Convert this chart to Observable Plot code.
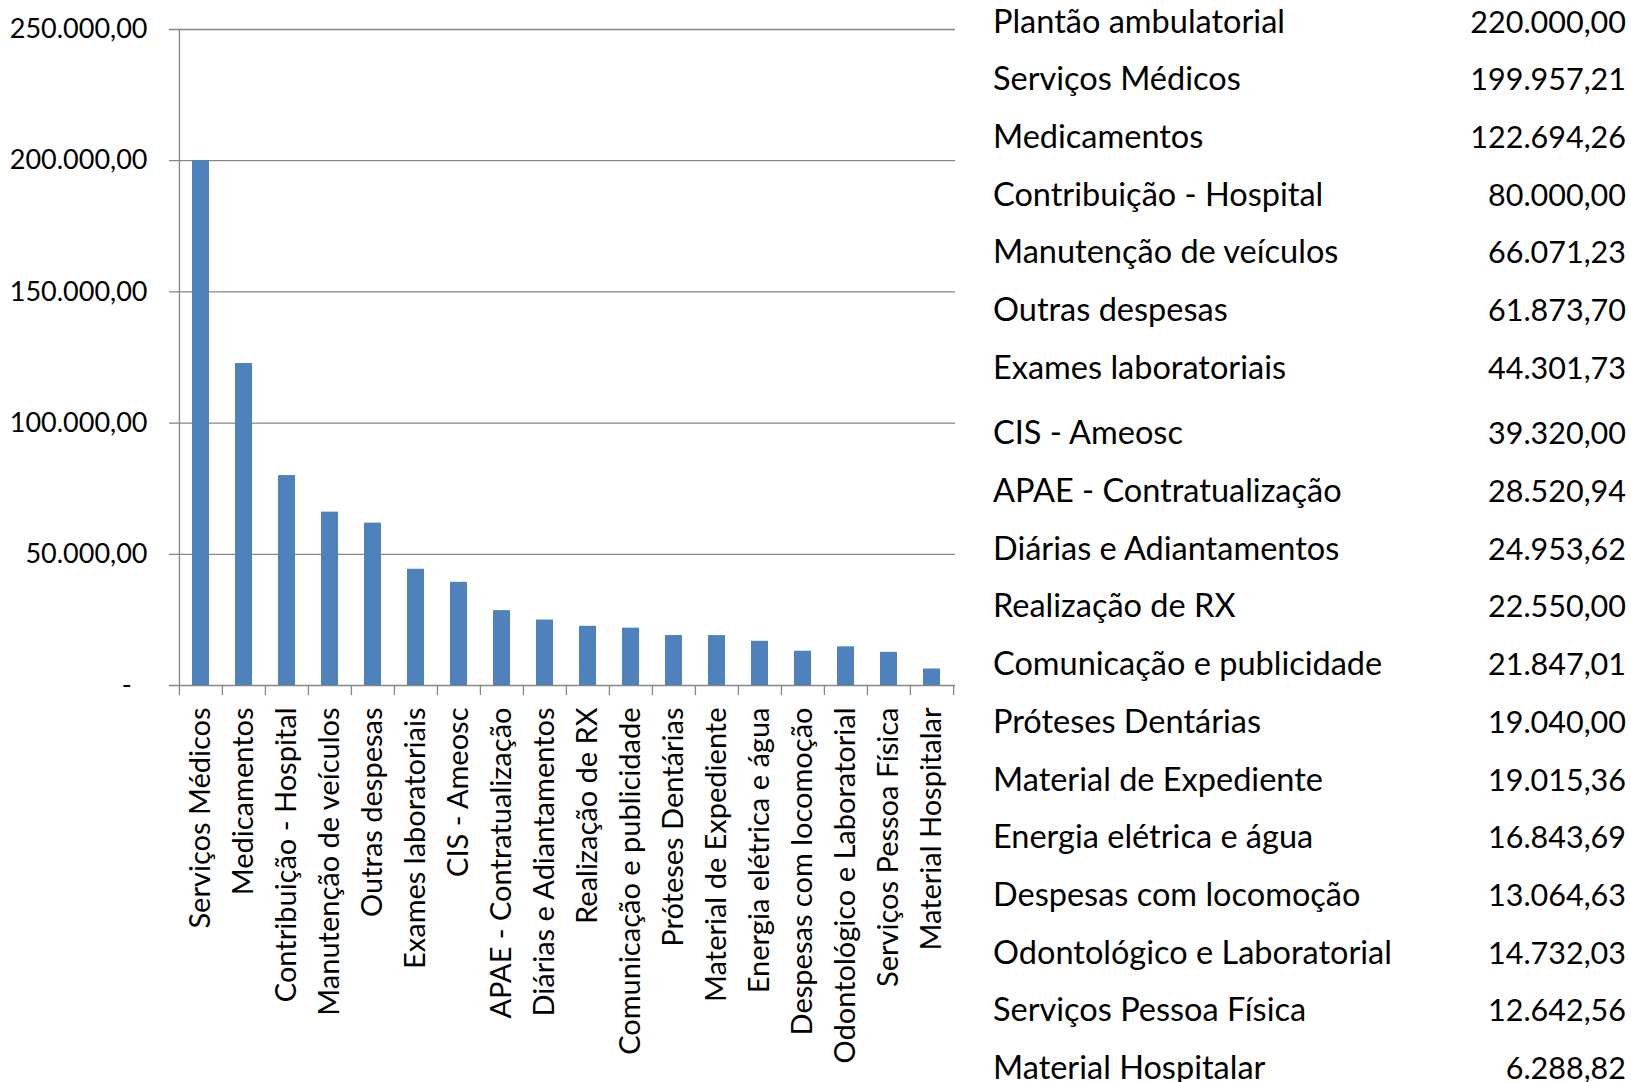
<!DOCTYPE html>
<html>
<head>
<meta charset="utf-8">
<script src="https://cdn.jsdelivr.net/npm/d3@7"></script>
<script src="https://cdn.jsdelivr.net/npm/@observablehq/plot@0.6"></script>
<style>
  html, body { margin: 0; padding: 0; background: #fff; }
  #wrap { position: relative; width: 1631px; height: 1082px; overflow: hidden; font-family: Lato, "Open Sans", sans-serif; }
  #chart { position: absolute; left: 0; top: 0; }
  #list { position: absolute; left: 993px; top: -8px; width: 633px; color: #000; }
  #list .row { display: flex; justify-content: space-between; align-items: center; height: 57.7px; white-space: nowrap; line-height: 1; }
  #list .row .lab { font-size: 32.5px; }
  #list .row .val { font-size: 30.5px; }
  #list .row:nth-child(8) { margin-top: 8px; }
</style>
</head>
<body>
<div id="wrap">
  <div id="chart"></div>
  <div id="list"></div>
</div>
<script>
// Bar chart data
const categories = [
  "Serviços Médicos", "Medicamentos", "Contribuição - Hospital", "Manutenção de veículos",
  "Outras despesas", "Exames laboratoriais", "CIS - Ameosc", "APAE - Contratualização",
  "Diárias e Adiantamentos", "Realização de RX", "Comunicação e publicidade", "Próteses Dentárias",
  "Material de Expediente", "Energia elétrica e água", "Despesas com locomoção",
  "Odontológico e Laboratorial", "Serviços Pessoa Física", "Material Hospitalar"
];
const values = [
  199957.21, 122694.26, 80000.00, 66071.23, 61873.70, 44301.73, 39320.00, 28520.94,
  24953.62, 22550.00, 21847.01, 19040.00, 19015.36, 16843.69, 13064.63, 14732.03,
  12642.56, 6288.82
];
const yTicks = [0, 50000, 100000, 150000, 200000, 250000];

// Side list data
const listLabels = ["Plantão ambulatorial", ...categories];
const listValues = [220000.00, ...values];

const ptBR = d3.formatLocale({decimal: ",", thousands: ".", grouping: [3], currency: ["R$", ""]});
const fmt = ptBR.format(",.2f");
const tickFmt = d => d === 0 ? "-\u2007" : fmt(d);

const data = categories.map((c, i) => ({category: c, value: values[i]}));

const W = 960, ML = 178, MR = 5;
const step = (W - ML - MR) / categories.length;

const plot = Plot.plot({
  width: W,
  height: 1082,
  marginLeft: ML,
  marginRight: MR,
  marginTop: 29,
  marginBottom: 397,
  style: {fontFamily: "Lato, 'Open Sans', sans-serif", fontSize: "27px", color: "#000", background: "#fff"},
  x: {domain: categories, paddingInner: 0.6, paddingOuter: 0.3, label: null},
  y: {domain: [0, 250000], label: null},
  marks: [
    Plot.ruleY(yTicks, {stroke: "#868686", strokeWidth: 1.3, insetLeft: -9}),
    Plot.barY(data, {x: "category", y: "value", fill: "#4F81BD"}),
    Plot.ruleX([categories[0]], {x: d => d, dx: -step / 2, y1: 250000, y2: 0, insetBottom: -10, stroke: "#868686", strokeWidth: 1.3}),
    Plot.ruleX(categories.slice(1), {x: d => d, dx: -step / 2, y1: 0, y2: 0, insetBottom: -10, stroke: "#868686", strokeWidth: 1.3}),
    Plot.ruleX([categories[categories.length - 1]], {x: d => d, dx: step / 2, y1: 0, y2: 0, insetBottom: -10, stroke: "#868686", strokeWidth: 1.3}),
    Plot.axisY({ticks: yTicks, tickFormat: tickFmt, tickSize: 0, tickPadding: 31, fontSize: 27, label: null}),
    Plot.axisX({tickSize: 0, tickRotate: -90, tickPadding: 22, fontSize: 29, label: null})
  ]
});
document.getElementById("chart").appendChild(plot);

const list = document.getElementById("list");
listLabels.forEach((l, i) => {
  const row = document.createElement("div");
  row.className = "row";
  const a = document.createElement("span"); a.className = "lab"; a.textContent = l;
  const b = document.createElement("span"); b.className = "val"; b.textContent = fmt(listValues[i]);
  row.appendChild(a); row.appendChild(b);
  list.appendChild(row);
});
</script>
</body>
</html>
